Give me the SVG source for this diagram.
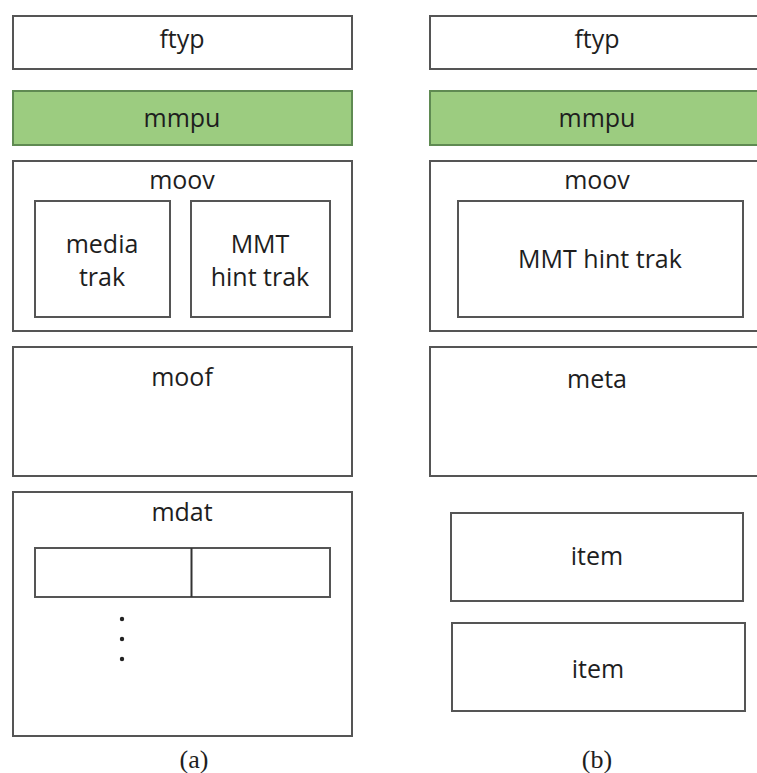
<svg xmlns="http://www.w3.org/2000/svg" width="757" height="773" viewBox="0 0 757 773">
  <style>
    .box { fill: #ffffff; stroke: #555555; stroke-width: 2; }
    .green { fill: #9ccc80; stroke: #5f8a52; stroke-width: 2; }
    .lbl { font-family: "Open Sans", "Liberation Sans", sans-serif; font-size: 25px; font-weight: 500; fill: #1e1e1e; text-anchor: middle; }
    .cap { font-family: "Liberation Serif", serif; font-size: 26px; fill: #1e1e1e; text-anchor: middle; }
    .dot { fill: #222222; }
  </style>
  <rect width="757" height="773" fill="#ffffff"/>

  <!-- (a) MPU with media track -->
  <g id="a-ftyp">
    <rect class="box" x="13" y="16" width="339" height="53"/>
    <text class="lbl" x="182" y="48">ftyp</text>
  </g>
  <g id="a-mmpu">
    <rect class="green" x="13" y="91" width="339" height="54"/>
    <text class="lbl" x="182" y="127">mmpu</text>
  </g>
  <g id="a-moov">
    <rect class="box" x="13" y="161" width="339" height="170"/>
    <text class="lbl" x="182" y="189">moov</text>
  </g>
  <g id="a-media-trak">
    <rect class="box" x="35" y="201" width="135" height="116"/>
    <text class="lbl" x="102" y="253">media</text>
    <text class="lbl" x="102" y="286">trak</text>
  </g>
  <g id="a-hint-trak">
    <rect class="box" x="191" y="201" width="139" height="116"/>
    <text class="lbl" x="260" y="253">MMT</text>
    <text class="lbl" x="260" y="286">hint trak</text>
  </g>
  <g id="a-moof">
    <rect class="box" x="13" y="347" width="339" height="129"/>
    <text class="lbl" x="182" y="386">moof</text>
  </g>
  <g id="a-mdat">
    <rect class="box" x="13" y="492" width="339" height="244"/>
    <text class="lbl" x="182" y="521">mdat</text>
    <rect class="box" x="35" y="548" width="295" height="49"/>
    <line x1="191.5" y1="548" x2="191.5" y2="597" stroke="#333333" stroke-width="2"/>
    <circle class="dot" cx="122" cy="619" r="2.2"/>
    <circle class="dot" cx="122" cy="639" r="2.2"/>
    <circle class="dot" cx="122" cy="659" r="2.2"/>
  </g>
  <text class="cap" x="194" y="768">(a)</text>

  <!-- (b) MPU with items -->
  <g id="b-ftyp">
    <rect class="box" x="430" y="16" width="335" height="53"/>
    <text class="lbl" x="597" y="48">ftyp</text>
  </g>
  <g id="b-mmpu">
    <rect class="green" x="430" y="91" width="335" height="54"/>
    <text class="lbl" x="597" y="127">mmpu</text>
  </g>
  <g id="b-moov">
    <rect class="box" x="430" y="161" width="335" height="170"/>
    <text class="lbl" x="597" y="189">moov</text>
  </g>
  <g id="b-hint-trak">
    <rect class="box" x="458" y="201" width="285" height="116"/>
    <text class="lbl" x="600" y="268">MMT hint trak</text>
  </g>
  <g id="b-meta">
    <rect class="box" x="430" y="347" width="335" height="129"/>
    <text class="lbl" x="597" y="388">meta</text>
  </g>
  <g id="b-item1">
    <rect class="box" x="451" y="513" width="292" height="88"/>
    <text class="lbl" x="597" y="565">item</text>
  </g>
  <g id="b-item2">
    <rect class="box" x="452" y="623" width="293" height="88"/>
    <text class="lbl" x="598" y="678">item</text>
  </g>
  <text class="cap" x="597" y="768">(b)</text>
</svg>
